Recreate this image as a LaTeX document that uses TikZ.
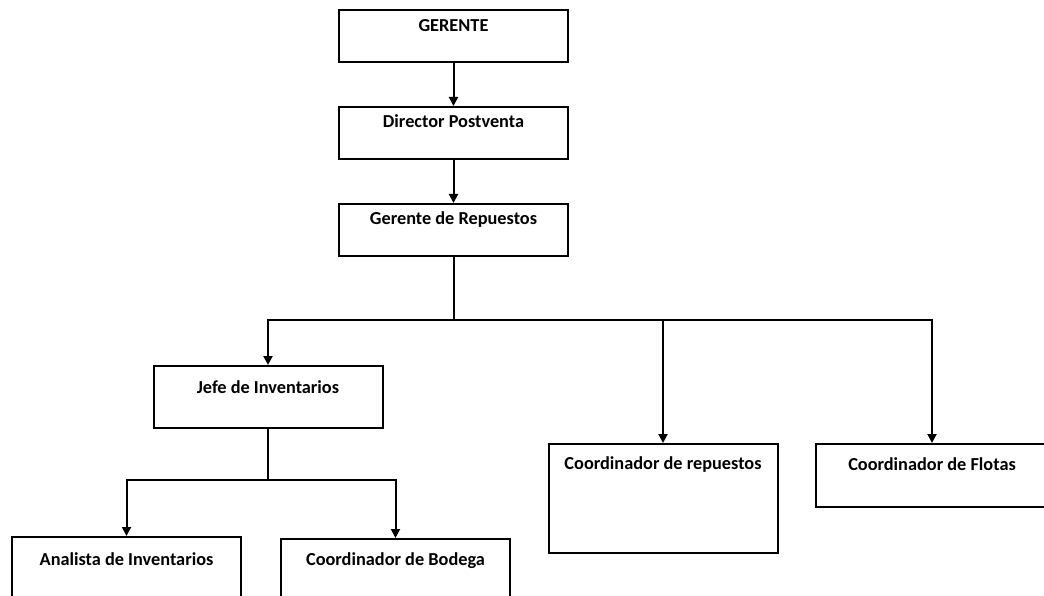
\documentclass[tikz,border=0pt]{standalone}
\usepackage{fontspec}
\setmainfont{Carlito}
\usetikzlibrary{arrows.meta}
\begin{document}
\begin{tikzpicture}[x=1pt,y=-1pt,
  box/.style={draw, line width=2pt, rectangle, inner sep=0pt, minimum width=229pt},
  lbl/.style={font=\fontsize{18.3}{21}\selectfont\bfseries, inner sep=0pt},
  link/.style={line width=2pt},
  arr/.style={link, -{Triangle[length=9pt,width=9pt]}}]
\clip (0,0) rectangle (1044,596);
\fill[white] (0,0) rectangle (1044,596);
% boxes: centre x, centre y, height
\node[box, minimum height=52pt] (g)  at (453.5,36) {};
\node[box, minimum height=52pt] (d)  at (453.5,133) {};
\node[box, minimum height=52pt] (r)  at (453.5,230) {};
\node[box, minimum height=62pt] (ji) at (268,397) {};
\node[box, minimum height=109pt] (cr) at (663,498.5) {};
\node[box, minimum height=63pt, minimum width=232pt] (cf) at (932,475.5) {};
\node[box, minimum height=70pt] (an) at (126.5,572) {};
\node[box, minimum height=70pt] (cb) at (395.5,574) {};
% titles near the top of each box
\node[lbl] (tg)  at ([yshift=-17pt]g.north)  {GERENTE};
\node[lbl] (td)  at ([yshift=-15pt]d.north)  {Director Postventa};
\node[lbl] (tr)  at ([yshift=-17pt]r.north)  {Gerente de Repuestos};
\node[lbl] (tji) at ([yshift=-22pt]ji.north) {Jefe de Inventarios};
\node[lbl] (tcr) at ([yshift=-22pt]cr.north) {Coordinador de repuestos};
\node[lbl] (tcf) at ([yshift=-21pt]cf.north) {Coordinador de Flotas};
\node[lbl] (tan) at ([yshift=-23pt]an.north) {Analista de Inventarios};
\node[lbl] (tcb) at ([yshift=-23pt]cb.north) {Coordinador de Bodega};
% branching points
\coordinate (j1) at (453.5,320);
\coordinate (j2) at (268,480);
% connectors
\draw[arr] (g.south) -- (d.north);
\draw[arr] (d.south) -- (r.north);
\draw[link] (r.south) -- (j1);
\draw[arr] (j1) -| (ji.north);
\draw[arr] (j1) -| (cr.north);
\draw[arr] (j1) -| (cf.north);
\draw[link] (ji.south) -- (j2);
\draw[arr] (j2) -| (an.north);
\draw[arr] (j2) -| (cb.north);
\end{tikzpicture}
\end{document}
